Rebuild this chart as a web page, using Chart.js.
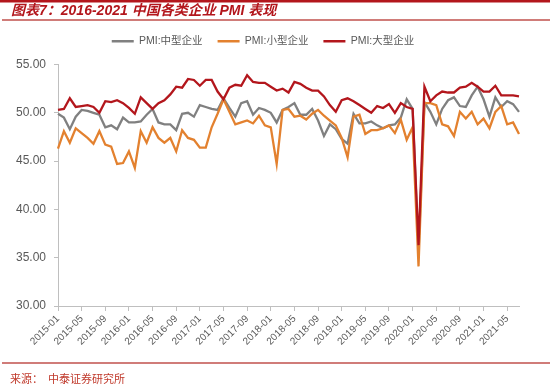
<!DOCTYPE html>
<html>
<head>
<meta charset="utf-8">
<script src="https://cdn.jsdelivr.net/npm/chart.js@4.4.1/dist/chart.umd.min.js"></script>
<style>
  html, body { margin: 0; padding: 0; background: #fff; }
  #grafico { display: block; }
</style>
</head>
<body>
<canvas id="grafico" width="550" height="387"></canvas>
<script>
// Meses: 2015-01 .. 2021-07
const anioInicio = 2015;
const totalMeses = 79;
const meses = [];
for (let i = 0; i < totalMeses; i++) {
  const a = anioInicio + Math.floor(i / 12);
  const m = (i % 12) + 1;
  meses.push(a + "-" + (m < 10 ? "0" + m : m));
}

// PMI por tamaño de empresa
const pmiMediana = [
  49.9, 49.5, 48.3, 49.6, 50.3, 50.2, 50.0, 49.8, 48.5, 48.7, 48.3, 49.5,
  49.0, 49.0, 49.1, 49.8, 50.4, 49.0, 48.8, 48.8, 48.2, 49.9, 50.0, 49.6,
  50.8, 50.6, 50.4, 50.3, 51.5, 50.5, 49.6, 51.0, 51.2, 49.8, 50.5, 50.3,
  50.0, 49.0, 50.3, 50.6, 51.0, 49.8, 49.8, 50.4, 49.2, 47.6, 48.8, 48.3,
  47.3, 46.8, 49.9, 48.9, 48.9, 49.1, 48.7, 48.4, 48.7, 48.8, 49.5, 51.4,
  50.4, 35.5, 51.1, 50.1, 48.8, 50.4, 51.3, 51.6, 50.7, 50.6, 51.8, 52.7,
  51.4, 49.6, 51.6, 50.6, 51.2, 50.9, 50.1
];
const pmiPequena = [
  46.3, 48.1, 46.9, 48.4, 47.9, 47.4, 46.8, 48.1, 46.7, 46.5, 44.7, 44.8,
  46.0, 44.3, 48.1, 46.9, 48.5, 47.4, 46.9, 47.4, 46.0, 48.2, 47.4, 47.2,
  46.4, 46.4, 48.5, 49.9, 51.4, 50.1, 48.8, 49.0, 49.2, 48.9, 49.7, 48.7,
  48.5, 44.7, 50.3, 50.4, 49.6, 49.7, 49.3, 49.9, 50.3, 49.7, 49.2, 48.7,
  47.4, 45.4, 49.6, 49.8, 47.8, 48.2, 48.2, 48.4, 48.7, 47.9, 49.3, 47.2,
  48.5, 34.1, 51.0, 51.0, 50.8, 48.8, 48.6, 47.6, 50.1, 49.4, 50.1, 48.8,
  49.4, 48.4, 50.1, 50.7, 48.8, 49.0, 47.8
];
const pmiGrande = [
  50.3, 50.4, 51.5, 50.6, 50.7, 50.8, 50.6, 50.0, 51.2, 51.1, 51.3, 51.0,
  50.5, 49.9, 51.6, 51.0, 50.4, 51.0, 51.3, 51.9, 52.7, 52.6, 53.5, 53.4,
  52.8, 53.4, 53.4, 52.2, 51.4, 52.6, 52.9, 52.8, 53.9, 53.2, 53.1, 53.1,
  52.7, 52.3, 52.5, 52.1, 53.2, 53.0, 52.6, 52.3, 52.3, 51.7, 50.8, 50.1,
  51.3, 51.5, 51.2, 50.8, 50.4, 50.0, 50.7, 50.5, 50.9, 50.0, 51.0, 50.6,
  50.4, 36.3, 52.7, 51.2, 51.8, 52.2, 52.1, 52.1, 52.6, 52.7, 53.1, 52.7,
  52.2, 52.2, 52.8, 51.8, 51.8, 51.8, 51.7
];

const ticksY = [30, 35, 40, 45, 50, 55];

const rojo = "#B3161C";
const gris = "#808080";
const naranja = "#E3812F";
const colorTexto = "#595959";
const colorEje = "#BFBFBF";

// Título, líneas rojas y fuente
const decoracion = {
  id: "decoracion",
  beforeInit(chart) {
    // más espacio bajo la leyenda
    const fitOriginal = chart.legend.fit;
    chart.legend.fit = function () {
      fitOriginal.bind(chart.legend)();
      this.height += 8;
    };
  },
  beforeDraw(chart) {
    const ctx = chart.ctx;
    ctx.save();
    ctx.fillStyle = "#fff";
    ctx.fillRect(0, 0, chart.width, chart.height);

    ctx.strokeStyle = rojo;
    ctx.lineWidth = 2.5;
    ctx.beginPath(); ctx.moveTo(0, 1.25); ctx.lineTo(550, 1.25); ctx.stroke();

    ctx.strokeStyle = "#C0504D";
    ctx.lineWidth = 1.5;
    ctx.beginPath(); ctx.moveTo(2, 20); ctx.lineTo(550, 20); ctx.stroke();
    ctx.beginPath(); ctx.moveTo(2, 363); ctx.lineTo(550, 363); ctx.stroke();

    ctx.fillStyle = rojo;
    ctx.textBaseline = "middle";
    ctx.font = "italic bold 14px 'Liberation Sans', 'Noto Sans CJK SC', sans-serif";
    ctx.fillText("图表7：2016-2021 中国各类企业 PMI 表现", 11, 11);

    ctx.fillStyle = "#C0392B";
    ctx.font = "11px 'Noto Sans CJK SC', sans-serif";
    ctx.fillText("来源：", 10, 379);
    ctx.fillText("中泰证券研究所", 48, 379);
    ctx.restore();
  }
};

Chart.defaults.font.family = "'Liberation Sans', 'Noto Sans CJK SC', sans-serif";
Chart.defaults.color = colorTexto;

function serie(nombre, datos, color, orden) {
  return {
    label: nombre,
    data: datos,
    borderColor: color,
    backgroundColor: color,
    pointBorderColor: color,
    pointBackgroundColor: color,
    pointBorderWidth: 2.3,
    order: orden
  };
}

const chart = new Chart(document.getElementById("grafico"), {
  type: "line",
  data: {
    labels: meses,
    datasets: [
      serie("PMI:中型企业", pmiMediana, gris, 3),
      serie("PMI:小型企业", pmiPequena, naranja, 2),
      serie("PMI:大型企业", pmiGrande, rojo, 1)
    ]
  },
  options: {
    responsive: false,
    animation: false,
    devicePixelRatio: 1,
    layout: { padding: { top: 21, left: 7, right: 31, bottom: 0 } },
    elements: {
      line: { borderWidth: 2.3, tension: 0, fill: false },
      point: { radius: 0 }
    },
    plugins: {
      legend: {
        position: "top",
        labels: {
          usePointStyle: true,
          pointStyle: "line",
          pointStyleWidth: 22,
          padding: 15,
          color: colorTexto,
          font: { size: 10.5 },
          sort: (a, b) => a.datasetIndex - b.datasetIndex
        }
      },
      tooltip: { enabled: false }
    },
    scales: {
      x: {
        offset: false,
        afterFit: (s) => { s.height = 81; },
        border: { display: true, color: colorEje },
        grid: {
          drawOnChartArea: false,
          tickLength: 5,
          color: (c) => (c.index % 4 === 0 ? colorEje : "rgba(0,0,0,0)")
        },
        ticks: {
          autoSkip: false,
          minRotation: 45,
          maxRotation: 45,
          padding: 2,
          font: { size: 10 },
          color: colorTexto,
          callback: function (v, i) { return i % 4 === 0 ? this.getLabelForValue(v) : ""; }
        }
      },
      y: {
        min: ticksY[0],
        max: ticksY[ticksY.length - 1],
        afterFit: (s) => { s.width = 51; },
        afterBuildTicks: (s) => { s.ticks = ticksY.map(v => ({ value: v })); },
        border: { display: true, color: colorEje },
        grid: { drawOnChartArea: false, tickLength: 4, color: colorEje },
        ticks: {
          padding: 8,
          font: { size: 12 },
          color: colorTexto,
          callback: (v) => Number(v).toFixed(2)
        }
      }
    }
  },
  plugins: [decoracion]
});
</script>
</body>
</html>
